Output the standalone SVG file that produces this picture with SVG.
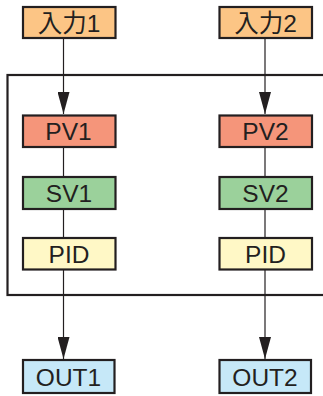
<svg xmlns="http://www.w3.org/2000/svg" width="323" height="396" viewBox="0 0 323 396">
<style>
.box{stroke:#231f20;stroke-width:2.2}
.t{font-family:"Liberation Sans","Noto Sans CJK JP",sans-serif;font-size:24.5px;fill:#231f20;text-anchor:middle}
.in{fill:#fcc585}.pv{fill:#f5957a}.sv{fill:#9bd19b}.pid{fill:#fff8c6}.out{fill:#c6e8f8}
.ln{stroke:#231f20;stroke-width:1.2;fill:none}
</style>
<defs>
<marker id="ah" markerUnits="userSpaceOnUse" markerWidth="22" markerHeight="12" refX="22" refY="6" orient="auto" viewBox="0 0 22 12">
<path d="M0,0 L22,6 L0,12 Z" fill="#231f20"/>
</marker>
</defs>
<rect x="7.5" y="75" width="330" height="220" fill="none" stroke="#231f20" stroke-width="2.2"/>
<g id="connectors">
<line class="ln" x1="63.5" y1="38" x2="63.5" y2="114" marker-end="url(#ah)"/>
<line class="ln" x1="63.5" y1="147" x2="63.5" y2="177"/>
<line class="ln" x1="63.5" y1="209" x2="63.5" y2="238"/>
<line class="ln" x1="63.5" y1="269" x2="63.5" y2="359" marker-end="url(#ah)"/>
<line class="ln" x1="265" y1="38" x2="265" y2="114" marker-end="url(#ah)"/>
<line class="ln" x1="265" y1="147" x2="265" y2="177"/>
<line class="ln" x1="265" y1="209" x2="265" y2="238"/>
<line class="ln" x1="265" y1="269" x2="265" y2="359" marker-end="url(#ah)"/>
</g>
<g id="in1"><rect class="box in" x="23" y="7" width="92.5" height="31"/><text class="t" x="69" y="31.5">入力1</text></g>
<g id="in2"><rect class="box in" x="219.5" y="7" width="92.5" height="31"/><text class="t" x="265.5" y="31.5">入力2</text></g>
<g id="pv1"><rect class="box pv" x="23" y="115.5" width="92.5" height="31.5"/><text class="t" x="68.5" y="140">PV1</text></g>
<g id="pv2"><rect class="box pv" x="219.5" y="115.5" width="92.5" height="31.5"/><text class="t" x="265.5" y="140">PV2</text></g>
<g id="sv1"><rect class="box sv" x="23" y="177" width="92.5" height="32"/><text class="t" x="69" y="202">SV1</text></g>
<g id="sv2"><rect class="box sv" x="219.5" y="177" width="92.5" height="32"/><text class="t" x="265.5" y="202">SV2</text></g>
<g id="pid1"><rect class="box pid" x="23" y="238" width="92.5" height="31.5"/><text class="t" x="69" y="262.5">PID</text></g>
<g id="pid2"><rect class="box pid" x="219.5" y="238" width="92.5" height="31.5"/><text class="t" x="265.5" y="262.5">PID</text></g>
<g id="out1"><rect class="box out" x="23" y="360" width="91.5" height="33"/><text class="t" x="68.5" y="385.5">OUT1</text></g>
<g id="out2"><rect class="box out" x="219.5" y="360" width="91.5" height="33"/><text class="t" x="265" y="385.5">OUT2</text></g>
</svg>
